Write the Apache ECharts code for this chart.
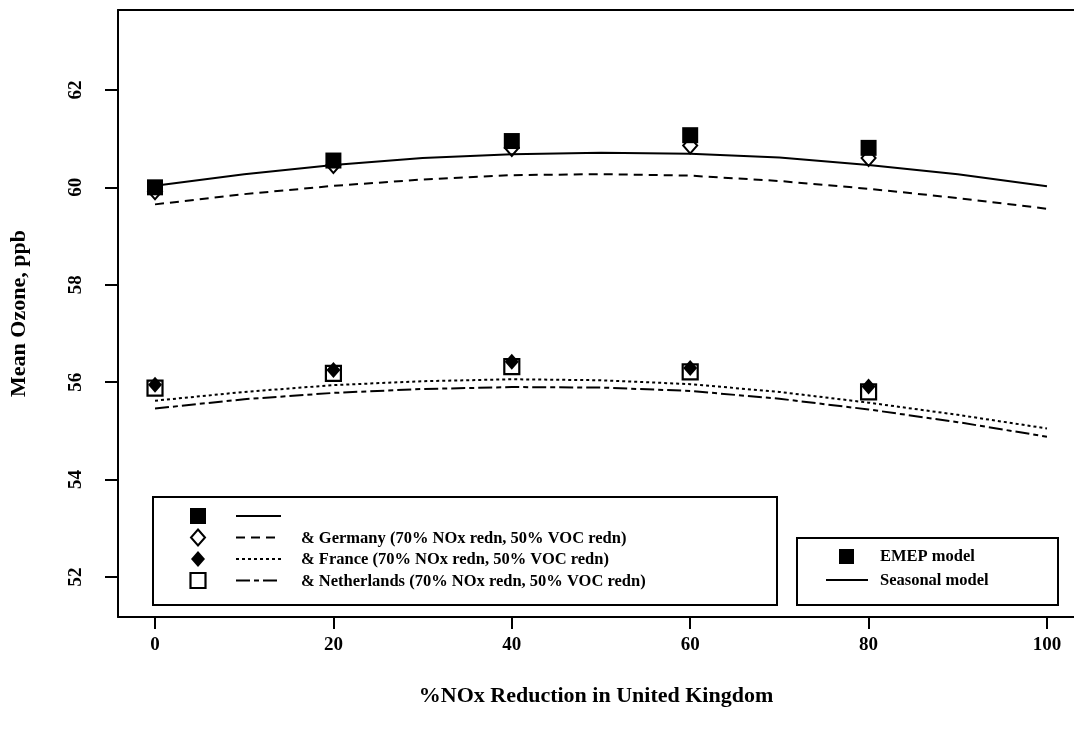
<!DOCTYPE html>
<html>
<head>
<meta charset="utf-8">
<script src="https://cdn.jsdelivr.net/npm/echarts@6/dist/echarts.min.js"></script>
<style>html,body{margin:0;padding:0;background:#fff}#c{width:1074px;height:732px}</style>
</head>
<body>
<div id="c"></div>
<script>
// ---- data ----
var pointX = [0, 20, 40, 60, 80];
var emepBase = [60.0, 60.55, 60.95, 61.07, 60.81];
var emepGermany = [59.92, 60.46, 60.81, 60.86, 60.6];
var emepFrance = [55.95, 56.25, 56.42, 56.29, 55.91];
var emepNetherlands = [55.88, 56.18, 56.32, 56.21, 55.8];

var curveX = [0, 10, 20, 30, 40, 50, 60, 70, 80, 90, 100];
var seasonalBase = [60.03, 60.27, 60.46, 60.6, 60.68, 60.71, 60.69, 60.61, 60.46, 60.27, 60.02];
var seasonalGermany = [59.65, 59.86, 60.03, 60.16, 60.25, 60.27, 60.24, 60.13, 59.97, 59.78, 59.56];
var seasonalFrance = [55.62, 55.8, 55.94, 56.02, 56.06, 56.04, 55.96, 55.8, 55.58, 55.33, 55.05];
var seasonalNetherlands = [55.46, 55.65, 55.78, 55.86, 55.9, 55.89, 55.82, 55.66, 55.44, 55.18, 54.88];

var xTicks = [0, 20, 40, 60, 80, 100];
var yTicks = [52, 54, 56, 58, 60, 62];

var legendLabels = ['', '& Germany (70% NOx redn, 50% VOC redn)', '& France (70% NOx redn, 50% VOC redn)', '& Netherlands (70% NOx redn, 50% VOC redn)'];
var keyLabels = ['EMEP model', 'Seasonal model'];

function pairs(xs, ys) { return xs.map(function (x, i) { return [x, ys[i]]; }); }

var FONT = '"Liberation Serif", "DejaVu Serif", serif';
var markerStyles = [
  {symbol: 'rect', size: 16, item: {color: '#000', opacity: 1}},
  {symbol: 'diamond', size: [14, 16], item: {color: 'rgba(0,0,0,0)', borderColor: '#000', borderWidth: 2, opacity: 1}},
  {symbol: 'diamond', size: [14, 16], item: {color: '#000', opacity: 1}},
  {symbol: 'rect', size: 15, item: {color: 'rgba(0,0,0,0)', borderColor: '#000', borderWidth: 2.2, opacity: 1}}
];
var lineTypes = ['solid', [9, 6], [3, 3], [14, 4, 5, 4]];
var emepSets = [emepBase, emepGermany, emepFrance, emepNetherlands];
var seasonalSets = [seasonalBase, seasonalGermany, seasonalFrance, seasonalNetherlands];

var series = [];
seasonalSets.forEach(function (s, i) {
  series.push({type: 'line', data: pairs(curveX, s), showSymbol: false, symbol: 'none', z: 2,
    lineStyle: {color: '#000', width: 2, type: lineTypes[i]}, silent: true});
});
emepSets.forEach(function (s, i) {
  var m = markerStyles[i];
  series.push({type: 'scatter', data: pairs(pointX, s), symbol: m.symbol, symbolSize: m.size, z: 3 + i,
    itemStyle: m.item, silent: true});
});

// legend graphics
var LFONT = 'bold 16.5px ' + FONT;
var graphic = [];
graphic.push({type: 'rect', shape: {x: 153, y: 497, width: 624, height: 108}, style: {fill: '#fff', stroke: '#000', lineWidth: 2}, z: 100});
legendLabels.forEach(function (t, i) {
  var cy = 516 + i * 21.5;
  var m = markerStyles[i];
  var sz = Array.isArray(m.size) ? m.size : [m.size, m.size];
  if (m.symbol === 'rect') {
    graphic.push({type: 'rect', shape: {x: 198 - sz[0] / 2, y: cy - sz[1] / 2, width: sz[0], height: sz[1]},
      style: {fill: m.item.color === '#000' ? '#000' : 'none', stroke: '#000', lineWidth: m.item.borderWidth || 0}, z: 101});
  } else {
    graphic.push({type: 'polygon', shape: {points: [[198, cy - sz[1] / 2], [198 + sz[0] / 2, cy], [198, cy + sz[1] / 2], [198 - sz[0] / 2, cy]]},
      style: {fill: m.item.color === '#000' ? '#000' : 'none', stroke: '#000', lineWidth: m.item.borderWidth || 0}, z: 101});
  }
  var lt = lineTypes[i];
  graphic.push({type: 'line', shape: {x1: 236, y1: cy, x2: 281, y2: cy},
    style: {stroke: '#000', lineWidth: 2, lineDash: lt === 'solid' ? null : lt}, z: 101});
  if (t) graphic.push({type: 'text', x: 301, y: cy + 1, style: {text: t, font: LFONT, fill: '#000', verticalAlign: 'middle'}, z: 101});
});
graphic.push({type: 'rect', shape: {x: 797, y: 538, width: 261, height: 67}, style: {fill: '#fff', stroke: '#000', lineWidth: 2}, z: 100});
graphic.push({type: 'rect', shape: {x: 839, y: 549, width: 15, height: 15}, style: {fill: '#000'}, z: 101});
graphic.push({type: 'line', shape: {x1: 826, y1: 580, x2: 868, y2: 580}, style: {stroke: '#000', lineWidth: 2}, z: 101});
keyLabels.forEach(function (t, i) {
  graphic.push({type: 'text', x: 880, y: 557 + i * 24, style: {text: t, font: LFONT, fill: '#000', verticalAlign: 'middle'}, z: 101});
});

var lab = {fontFamily: FONT, fontWeight: 'bold', fontSize: 19, color: '#000'};
var ttl = {fontFamily: FONT, fontWeight: 'bold', fontSize: 22, color: '#000'};
var chart = echarts.init(document.getElementById('c'), null, {renderer: 'canvas'});
chart.setOption({
  animation: false,
  backgroundColor: '#fff',
  grid: {left: 118, top: 10, right: 0, bottom: 115, show: false},
  xAxis: [{
    type: 'value', min: -4.15, max: 103.03, position: 'bottom',
    name: '%NOx Reduction in United Kingdom', nameLocation: 'middle', nameGap: 68,
    nameTextStyle: ttl,
    axisLine: {show: true, onZero: false, lineStyle: {color: '#000', width: 2}},
    axisTick: {show: true, customValues: xTicks, length: 12, lineStyle: {color: '#000', width: 2}},
    axisLabel: {customValues: xTicks, margin: 19, ...lab},
    splitLine: {show: false}
  }, {
    type: 'value', min: -4.15, max: 103.03, position: 'top',
    axisLine: {show: true, onZero: false, lineStyle: {color: '#000', width: 2}},
    axisTick: {show: false}, axisLabel: {show: false}, splitLine: {show: false}
  }],
  yAxis: {
    type: 'value', min: 51.18, max: 63.64,
    name: 'Mean Ozone, ppb', nameLocation: 'middle', nameGap: 88,
    nameTextStyle: ttl,
    axisLine: {show: true, onZero: false, lineStyle: {color: '#000', width: 2}},
    axisTick: {show: true, customValues: yTicks, length: 13, lineStyle: {color: '#000', width: 2}},
    axisLabel: {customValues: yTicks, rotate: 90, margin: 32, ...lab},
    splitLine: {show: false}
  },
  series: series,
  graphic: graphic
});
</script>
</body>
</html>
